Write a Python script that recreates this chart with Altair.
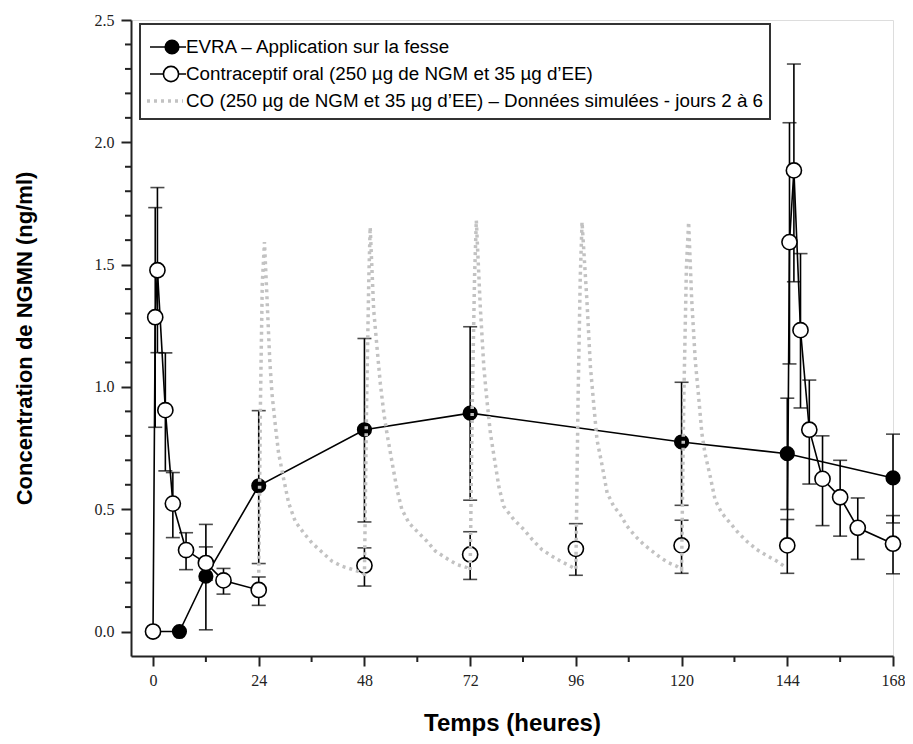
import altair as alt
import pandas as pd

# ---------------- data ----------------
evra_t = [0, 6, 12, 24, 48, 72, 120, 144, 168]
evra_v = [0, 0, 0.226, 0.596, 0.825, 0.893, 0.775, 0.727, 0.628]
evra_lo = [None, None, 0.007, 0.278, 0.448, 0.537, 0.516, 0.499, 0.444]
evra_hi = [None, None, 0.438, 0.903, 1.198, 1.246, 1.019, 0.954, 0.807]

oc_t = [0, 0.5, 1, 2.8, 4.5, 7.5, 12, 16, 24, 48, 72, 96, 120,
        144, 144.5, 145.5, 147, 149, 152, 156, 160, 168]
oc_v = [0, 1.285, 1.477, 0.905, 0.523, 0.333, 0.28, 0.209, 0.17, 0.27, 0.315, 0.338, 0.352,
        0.352, 1.592, 1.885, 1.232, 0.825, 0.624, 0.549, 0.424, 0.359]
oc_lo = [None, 0.835, 1.14, 0.657, 0.384, 0.253, 0.21, 0.153, 0.107, 0.186, 0.213, 0.23, 0.238,
         0.238, 1.094, 1.43, 0.914, 0.603, 0.433, 0.39, 0.295, 0.236]
oc_hi = [None, 1.733, 1.815, 1.139, 0.65, 0.404, 0.346, 0.258, 0.223, 0.342, 0.408, 0.441, 0.455,
         0.458, 2.08, 2.32, 1.545, 1.028, 0.80, 0.70, 0.546, 0.474]
oc_seg = ["j1"] * 9 + ["p48", "p72", "p96", "p120"] + ["j7"] * 9

co_day2_t = [24.0, 24.4, 24.8, 25.3, 25.9, 26.5, 27.0, 27.8, 28.5, 29.7, 30.8, 32.3, 34.2, 36.1, 38.4, 40.6, 42.9, 45.2, 47.5]
co_day2_v = [0.24, 0.947, 1.42, 1.592, 1.355, 1.11, 0.974, 0.838, 0.73, 0.62, 0.525, 0.45, 0.403, 0.362, 0.324, 0.288, 0.267, 0.254, 0.240]
co_day3_t = [48.0, 48.5, 49.0, 49.3, 50.1, 50.9, 51.6, 52.4, 53.1, 54.3, 55.4, 56.5, 58.1, 60.3, 62.2, 64.1, 66.4, 69.0, 71.3]
co_day3_v = [0.235, 0.95, 1.45, 1.653, 1.314, 1.152, 1.015, 0.893, 0.811, 0.689, 0.58, 0.499, 0.444, 0.403, 0.369, 0.329, 0.302, 0.274, 0.261]
co_day4_t = [72.0, 72.5, 73.0, 73.4, 74.3, 75.1, 75.8, 76.6, 77.3, 78.5, 79.6, 81.9, 84.2, 86.1, 88.3, 90.6, 92.5, 94.8]
co_day4_v = [0.25, 0.95, 1.45, 1.681, 1.327, 1.083, 0.947, 0.811, 0.73, 0.594, 0.512, 0.458, 0.417, 0.376, 0.335, 0.308, 0.288, 0.267]
co_day5_t = [96.0, 96.5, 97.0, 97.4, 98.5, 99.3, 100.1, 100.8, 102.0, 103.1, 104.6, 106.1, 107.6, 109.5, 111.4, 113.3, 115.2, 117.1, 118.9]
co_day5_v = [0.255, 0.95, 1.45, 1.674, 1.355, 1.083, 0.92, 0.784, 0.675, 0.567, 0.512, 0.478, 0.431, 0.39, 0.356, 0.329, 0.302, 0.281, 0.267]
co_day6_t = [120.0, 120.5, 121.1, 121.6, 122.3, 123.1, 123.8, 124.6, 125.3, 126.5, 127.6, 129.1, 131.0, 132.9, 134.8, 137.1, 139.3, 141.6, 143.8]
co_day6_v = [0.254, 0.947, 1.49, 1.674, 1.355, 1.11, 0.974, 0.811, 0.73, 0.634, 0.539, 0.485, 0.444, 0.403, 0.369, 0.335, 0.311, 0.288, 0.261]

x_major = [0, 24, 48, 72, 96, 120, 144, 168]
x_minor = [12, 36, 60, 84, 108, 132, 156]
y_major = [0.0, 0.5, 1.0, 1.5, 2.0, 2.5]
y_minor = [0.1, 0.2, 0.3, 0.4, 0.6, 0.7, 0.8, 0.9, 1.1, 1.2, 1.3, 1.4,
           1.6, 1.7, 1.8, 1.9, 2.1, 2.2, 2.3, 2.4]

legend_labels = [
    "EVRA \u2013 Application sur la fesse",
    "Contraceptif oral (250 \u00b5g de NGM et 35 \u00b5g d\u2019EE)",
    "CO (250 \u00b5g de NGM et 35 \u00b5g d\u2019EE) \u2013 Donn\u00e9es simul\u00e9es - jours 2 \u00e0 6",
]

# ---------------- tables ----------------
evra = pd.DataFrame({"t": evra_t, "v": evra_v, "lo": evra_lo, "hi": evra_hi})
oc = pd.DataFrame({"t": oc_t, "v": oc_v, "lo": oc_lo, "hi": oc_hi, "seg": oc_seg})
co_t = co_day2_t + co_day3_t + co_day4_t + co_day5_t + co_day6_t
co_v = co_day2_v + co_day3_v + co_day4_v + co_day5_v + co_day6_v
co = pd.DataFrame({"t": co_t, "v": co_v, "i": list(range(len(co_t)))})

caps = pd.concat([
    evra.dropna().melt(id_vars=["t"], value_vars=["lo", "hi"], value_name="c"),
    oc.dropna().melt(id_vars=["t"], value_vars=["lo", "hi"], value_name="c"),
])
bars = pd.concat([evra.dropna()[["t", "lo", "hi"]], oc.dropna()[["t", "lo", "hi"]]])

AX = "#222222"
LABEL_FONT = "Liberation Serif"
TITLE_FONT = "Liberation Sans"
XS = alt.Scale(domain=[-5, 168], nice=False, zero=False)
YS = alt.Scale(domain=[-0.1, 2.5], nice=False, zero=False)
W, H = 762, 636

x_enc = alt.X(
    "t:Q", scale=XS,
    axis=alt.Axis(
        values=x_major, format="d", tickSize=10,
        title="Temps (heures)", grid=False,
        domainColor=AX, domainWidth=2, tickColor=AX, tickWidth=2,
        labelFont=LABEL_FONT, labelFontSize=16, labelColor="#222",
        labelPadding=6, labelFlush=False, labelOverlap=False,
        titleFont=TITLE_FONT, titleFontSize=24, titleFontWeight="bold",
        titleColor="#000", titlePadding=23,
    ),
)
y_enc = alt.Y(
    "v:Q", scale=YS,
    axis=alt.Axis(
        values=y_major, format=".1f", tickSize=10,
        title="Concentration de NGMN (ng/ml)", grid=False,
        domainColor=AX, domainWidth=2, tickColor=AX, tickWidth=2,
        labelFont=LABEL_FONT, labelFontSize=16, labelColor="#222",
        labelPadding=7, labelFlush=False, labelOverlap=False,
        titleFont=TITLE_FONT, titleFontSize=22, titleFontWeight="bold",
        titleColor="#000", titlePadding=58,
    ),
)

# ---------------- minor ticks (through the scales) ----------------
ymin_df = pd.DataFrame({"m": y_minor})
xmin_df = pd.DataFrame({"m": x_minor})
y_minor_ticks = alt.Chart(ymin_df).mark_rule(color=AX, strokeWidth=2).encode(
    x=alt.value(-6), x2=alt.value(0), y=alt.Y("m:Q", scale=YS)
)
x_minor_ticks = alt.Chart(xmin_df).mark_rule(color=AX, strokeWidth=2).encode(
    y=alt.value(H), y2=alt.value(H + 6), x=alt.X("m:Q", scale=XS)
)

# ---------------- data layers ----------------
err_rules = alt.Chart(bars).mark_rule(color="#000", strokeWidth=1.6).encode(
    x=x_enc, y=alt.Y("lo:Q", scale=YS), y2="hi:Q"
)
err_caps = alt.Chart(caps).mark_tick(color="#000", orient="horizontal", size=14, thickness=1.6).encode(
    x=x_enc, y=alt.Y("c:Q", scale=YS)
)
evra_line = alt.Chart(evra).mark_line(color="#000", strokeWidth=1.6).encode(x=x_enc, y=y_enc, order="t:Q")
oc_line = alt.Chart(oc).mark_line(color="#000", strokeWidth=1.6).encode(
    x=x_enc, y=y_enc, detail="seg:N", order="t:Q"
)
evra_pts = alt.Chart(evra).mark_point(
    filled=True, shape="circle", size=230, color="#000", opacity=1
).encode(x=x_enc, y=y_enc)
oc_pts = alt.Chart(oc).mark_point(
    shape="circle", size=230, fill="#fff", stroke="#000", strokeWidth=1.6, opacity=1, fillOpacity=1
).encode(x=x_enc, y=y_enc)
co_line = alt.Chart(co).mark_line(
    color="#c2c2c2", strokeWidth=3.5, strokeDash=[3, 4]
).encode(x=x_enc, y=y_enc, order="i:Q")

# ---------------- legend (drawn inside the plot) ----------------
one = pd.DataFrame({"a": [0]})
leg_box = alt.Chart(one).mark_rect(fill="#fff", stroke="#333", strokeWidth=2).encode(
    x=alt.value(9), x2=alt.value(639), y=alt.value(4), y2=alt.value(99)
)
leg_df = pd.DataFrame({"label": legend_labels, "py": [27, 54, 81]})
leg_text = alt.Chart(leg_df).mark_text(
    align="left", baseline="middle", font=TITLE_FONT, fontSize=18.8, color="#000"
).encode(
    x=alt.value(55),
    y=alt.Y("py:Q", scale=None),
    text="label:N",
)
leg_l1 = alt.Chart(one).mark_rule(color="#000", strokeWidth=1.6).encode(
    x=alt.value(19), x2=alt.value(55), y=alt.value(27)
)
leg_p1 = alt.Chart(one).mark_point(filled=True, shape="circle", size=230, color="#000", opacity=1).encode(
    x=alt.value(41), y=alt.value(27)
)
leg_l2 = alt.Chart(one).mark_rule(color="#000", strokeWidth=1.6).encode(
    x=alt.value(19), x2=alt.value(55), y=alt.value(54)
)
leg_p2 = alt.Chart(one).mark_point(
    shape="circle", size=230, fill="#fff", stroke="#000", strokeWidth=1.6, opacity=1, fillOpacity=1
).encode(x=alt.value(40), y=alt.value(54))
leg_l3 = alt.Chart(one).mark_rule(color="#c2c2c2", strokeWidth=3.5, strokeDash=[3, 4]).encode(
    x=alt.value(16), x2=alt.value(52), y=alt.value(81)
)

chart = alt.layer(
    y_minor_ticks, x_minor_ticks,
    err_rules, err_caps, evra_line, oc_line, evra_pts, oc_pts, co_line,
    leg_box, leg_l1, leg_p1, leg_l2, leg_p2, leg_l3, leg_text,
).properties(
    width=W,
    height=H,
    autosize=alt.AutoSizeParams(type="none"),
    padding={"left": 123, "top": 12, "right": 12, "bottom": 80},
).configure_view(stroke=None).configure(background="#ffffff")

chart.save("out.html", embed_options={"renderer": "svg", "actions": False})
